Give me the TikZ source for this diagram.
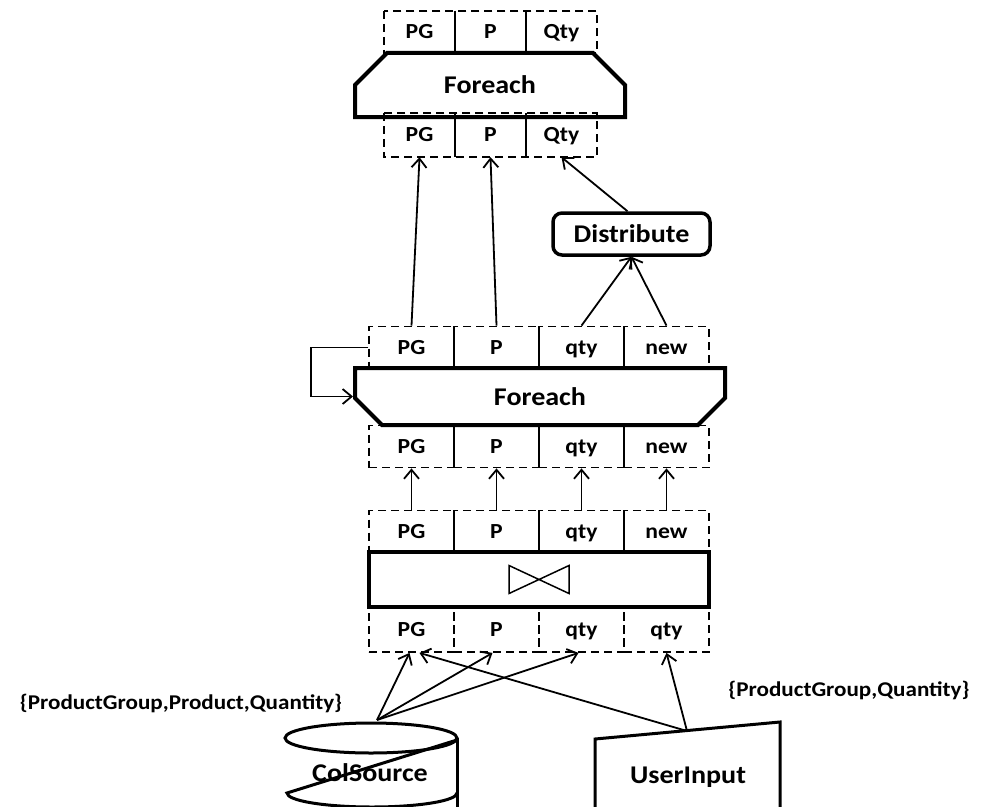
\documentclass[tikz,border=0pt]{standalone}
\usepackage{fontspec}
\setmainfont{Carlito}[FakeStretch=1.1]
\usetikzlibrary{arrows.meta,shapes.misc}

\newcommand{\cellfont}{\fontsize{21.5}{21.5}\selectfont\bfseries}
\newcommand{\boxfont}{\fontsize{25.5}{25.5}\selectfont\bfseries}
\newcommand{\notefont}{\fontsize{21}{21}\selectfont\bfseries}

\begin{document}
\begin{tikzpicture}[x=1pt,y=-1pt,
    cell/.style={draw, dash pattern=on 8pt off 5pt, line width=1.8pt,
        minimum width=85pt, minimum height=42pt, inner sep=0pt,
        text height=16pt, text depth=3pt, font=\cellfont},
    tcell/.style={minimum width=71pt, minimum height=42pt, inner sep=0pt,
        text height=16pt, text depth=3pt, font=\cellfont},
    dbox/.style={dash pattern=on 8pt off 5pt, line width=1.8pt},
    fe/.style={draw, chamfered rectangle, line width=4pt, inner sep=0pt, font=\boxfont},
    arr/.style={-{Straight Barb[length=9pt,width=15pt]}, line width=1.8pt}]
    \path[use as bounding box] (0,0) rectangle (985,806);
    \clip (0,0) rectangle (985,806);

    % top foreach
    \node[tcell] (ttPG) at (419.5,32) {PG};
    \node[tcell] (ttP) at (490.5,32) {P};
    \node[tcell] (ttQty) at (561.5,32) {Qty};
    \draw[dbox] (ttPG.north west) rectangle (ttQty.south east);
    \draw[line width=1.8pt] (ttPG.north east) -- (ttPG.south east)
        (ttP.north east) -- (ttP.south east);
    \node[fe, minimum width=270pt, minimum height=56pt,
        chamfered rectangle corners={north west,north east},
        chamfered rectangle xsep=27pt, chamfered rectangle ysep=23pt] (fTop) at (490,85) {Foreach};
    \node[tcell, minimum height=44pt] (tbPG) at (419.5,135) {PG};
    \node[tcell, minimum height=44pt] (tbP) at (490.5,135) {P};
    \node[tcell, minimum height=44pt] (tbQty) at (561.5,135) {Qty};
    \draw[dbox] (tbPG.north west) rectangle (tbQty.south east);
    \draw[line width=1.8pt] (tbPG.north east) -- (tbPG.south east)
        (tbP.north east) -- (tbP.south east);

    \node[draw, rounded corners=9pt, line width=3.5pt, minimum width=157pt,
        minimum height=42pt, font=\boxfont] (dist) at (631.5,234) {Distribute};

    % middle foreach
    \node[cell] (mtPG) at (411.5,347.5) {PG};
    \node[cell] (mtP) at (496.5,347.5) {P};
    \node[cell] (mtQty) at (581.5,347.5) {qty};
    \node[cell] (mtNew) at (666.5,347.5) {new};
    \node[fe, minimum width=370pt, minimum height=57pt,
        chamfered rectangle corners={south west,south east},
        chamfered rectangle xsep=18pt, chamfered rectangle ysep=18pt] (fMid) at (540,396.5) {Foreach};
    \node[cell] (mbPG) at (411.5,446.5) {PG};
    \node[cell] (mbP) at (496.5,446.5) {P};
    \node[cell] (mbQty) at (581.5,446.5) {qty};
    \node[cell] (mbNew) at (666.5,446.5) {new};

    % join
    \node[cell] (jtPG) at (411.5,531.5) {PG};
    \node[cell] (jtP) at (496.5,531.5) {P};
    \node[cell] (jtQty) at (581.5,531.5) {qty};
    \node[cell] (jtNew) at (666.5,531.5) {new};
    \node[draw, line width=4.5pt, minimum width=340pt, minimum height=55pt] (join) at (539,579.5) {};
    \draw[line width=1.5pt] ([shift={(-30pt,14pt)}]join.center) -- ([shift={(30pt,-14pt)}]join.center)
        -- ([shift={(30pt,14pt)}]join.center) -- ([shift={(-30pt,-14pt)}]join.center) -- cycle;
    \node[cell, minimum height=45pt] (jbPG) at (411.5,629.5) {PG};
    \node[cell, minimum height=45pt] (jbP) at (496.5,629.5) {P};
    \node[cell, minimum height=45pt] (jbQty) at (581.5,629.5) {qty};
    \node[cell, minimum height=45pt] (jbQty2) at (666.5,629.5) {qty};

    % sources
    \draw[line width=3pt] (371,738) ellipse [x radius=86, y radius=15];
    \draw[line width=3pt] (457,738) -- (457,815);
    \draw[line width=3pt] (457,740) -- (287,793) arc[start angle=180, end angle=0, x radius=85, y radius=14];
    \node[font=\boxfont] (cs) at (370,773) {ColSource};
    \draw[line width=3pt] (595,815) -- (595,739) -- (780,722) -- (780,815);
    \node[font=\boxfont] (ui) at (688,777) {UserInput};
    \coordinate (csTop) at (377,720);
    \coordinate (uiTop) at (687,731);
    \node[font=\notefont] (lblCS) at (181,703) {\{ProductGroup,Product,Quantity\}};
    \node[font=\notefont] (lblUI) at (849,690) {\{ProductGroup,Quantity\}};

    % arrows
    \draw[arr] (csTop) -- ([xshift=-2pt]jbPG.south);
    \draw[arr] (csTop) -- ([xshift=-4pt]jbP.south);
    \draw[arr] (csTop) -- ([xshift=-3pt]jbQty.south);
    \draw[arr] (uiTop) -- ([xshift=8pt]jbPG.south);
    \draw[arr] (uiTop) -- (jbQty2.south);
    \draw[arr] (jtPG) -- (mbPG.south);
    \draw[arr] (jtP) -- (mbP.south);
    \draw[arr] (jtQty) -- (mbQty.south);
    \draw[arr] (jtNew) -- (mbNew.south);
    \draw[arr] (mtPG.west) -- ++(-57,0) |- (fMid.west);
    \draw[arr] (mtPG.north) -- (tbPG.south);
    \draw[arr] (mtP.north) -- (tbP.south);
    \draw[arr] (mtQty.north) -- (dist.south);
    \draw[arr] (mtNew.north) -- (dist.south);
    \draw[arr] ([xshift=-4pt]dist.north) -- (tbQty.south);
\end{tikzpicture}
\end{document}
